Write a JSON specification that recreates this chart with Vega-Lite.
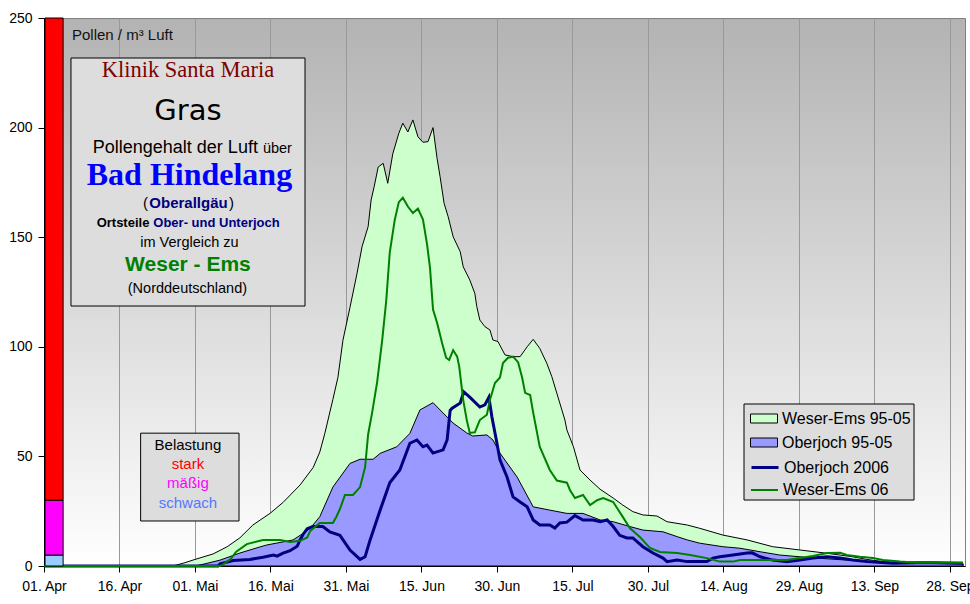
{
  "$schema": "https://vega.github.io/schema/vega-lite/v6.json",
  "width": 921,
  "height": 548,
  "autosize": {"type": "none"},
  "padding": {"left": 44, "top": 18, "right": 5, "bottom": 38},
  "background": "#ffffff",
  "view": {
    "fill": {"gradient": "linear", "x1": 0, "y1": 0, "x2": 0, "y2": 1, "stops": [{"offset": 0, "color": "#b3b3b3"}, {"offset": 1, "color": "#ffffff"}]},
    "stroke": "#808080",
    "strokeWidth": 1
  },
  "config": {
    "font": "Liberation Sans",
    "axis": {"titleOpacity": 0, "labelFont": "Liberation Sans", "labelFontSize": 14, "labelColor": "#000000", "domainColor": "#000000", "tickColor": "#000000", "tickSize": 6},
    "axisX": {"grid": true, "gridColor": "#999999", "gridWidth": 1, "labelFlush": false, "labelOverlap": false, "labelPadding": 7},
    "axisY": {"grid": false, "labelPadding": 6},
    "legend": {"title": null, "orient": "none", "legendX": 700, "padding": 2, "symbolOffset": 8.5, "symbolSize": 324, "labelOffset": 8.5, "rowPadding": 0, "labelFont": "Liberation Sans", "labelFontSize": 16, "labelColor": "#000000", "labelLimit": 0, "symbolOpacity": 1}
  },
  "resolve": {"legend": {"color": "independent"}},
  "datasets": {
    "reihen": [
      {"reihe": "Weser-Ems 95-05", "tag": 0, "wert": 0},
      {"reihe": "Weser-Ems 95-05", "tag": 25.6, "wert": 0},
      {"reihe": "Weser-Ems 95-05", "tag": 28.0, "wert": 1.5},
      {"reihe": "Weser-Ems 95-05", "tag": 30.0, "wert": 3},
      {"reihe": "Weser-Ems 95-05", "tag": 33.6, "wert": 5.5},
      {"reihe": "Weser-Ems 95-05", "tag": 36.4, "wert": 8.8},
      {"reihe": "Weser-Ems 95-05", "tag": 38.9, "wert": 12.8},
      {"reihe": "Weser-Ems 95-05", "tag": 41.5, "wert": 18.7},
      {"reihe": "Weser-Ems 95-05", "tag": 44.9, "wert": 24},
      {"reihe": "Weser-Ems 95-05", "tag": 47.5, "wert": 29},
      {"reihe": "Weser-Ems 95-05", "tag": 50.9, "wert": 37},
      {"reihe": "Weser-Ems 95-05", "tag": 53.5, "wert": 45},
      {"reihe": "Weser-Ems 95-05", "tag": 54.8, "wert": 52},
      {"reihe": "Weser-Ems 95-05", "tag": 55.8, "wert": 60.5},
      {"reihe": "Weser-Ems 95-05", "tag": 57.4, "wert": 76},
      {"reihe": "Weser-Ems 95-05", "tag": 58.4, "wert": 86},
      {"reihe": "Weser-Ems 95-05", "tag": 59.4, "wert": 103},
      {"reihe": "Weser-Ems 95-05", "tag": 60.8, "wert": 118},
      {"reihe": "Weser-Ems 95-05", "tag": 62.2, "wert": 133.5},
      {"reihe": "Weser-Ems 95-05", "tag": 63.2, "wert": 145.7},
      {"reihe": "Weser-Ems 95-05", "tag": 64.4, "wert": 154.8},
      {"reihe": "Weser-Ems 95-05", "tag": 65.0, "wert": 167},
      {"reihe": "Weser-Ems 95-05", "tag": 65.6, "wert": 173},
      {"reihe": "Weser-Ems 95-05", "tag": 66.4, "wert": 182},
      {"reihe": "Weser-Ems 95-05", "tag": 67.4, "wert": 183.7},
      {"reihe": "Weser-Ems 95-05", "tag": 68.3, "wert": 174.6},
      {"reihe": "Weser-Ems 95-05", "tag": 69.3, "wert": 188},
      {"reihe": "Weser-Ems 95-05", "tag": 70.5, "wert": 197.4},
      {"reihe": "Weser-Ems 95-05", "tag": 71.3, "wert": 202},
      {"reihe": "Weser-Ems 95-05", "tag": 72.3, "wert": 198},
      {"reihe": "Weser-Ems 95-05", "tag": 73.3, "wert": 203.5},
      {"reihe": "Weser-Ems 95-05", "tag": 74.3, "wert": 195.8},
      {"reihe": "Weser-Ems 95-05", "tag": 75.3, "wert": 193.3},
      {"reihe": "Weser-Ems 95-05", "tag": 76.3, "wert": 193.6},
      {"reihe": "Weser-Ems 95-05", "tag": 77.3, "wert": 200},
      {"reihe": "Weser-Ems 95-05", "tag": 78.1, "wert": 186},
      {"reihe": "Weser-Ems 95-05", "tag": 78.7, "wert": 177.6},
      {"reihe": "Weser-Ems 95-05", "tag": 79.5, "wert": 165.4},
      {"reihe": "Weser-Ems 95-05", "tag": 80.3, "wert": 159.4},
      {"reihe": "Weser-Ems 95-05", "tag": 81.3, "wert": 150.2},
      {"reihe": "Weser-Ems 95-05", "tag": 82.7, "wert": 143.4},
      {"reihe": "Weser-Ems 95-05", "tag": 83.3, "wert": 136.5},
      {"reihe": "Weser-Ems 95-05", "tag": 84.6, "wert": 130.5},
      {"reihe": "Weser-Ems 95-05", "tag": 85.6, "wert": 124.4},
      {"reihe": "Weser-Ems 95-05", "tag": 86.0, "wert": 118.3},
      {"reihe": "Weser-Ems 95-05", "tag": 86.6, "wert": 112.2},
      {"reihe": "Weser-Ems 95-05", "tag": 87.6, "wert": 109.2},
      {"reihe": "Weser-Ems 95-05", "tag": 88.6, "wert": 107.7},
      {"reihe": "Weser-Ems 95-05", "tag": 89.2, "wert": 103.1},
      {"reihe": "Weser-Ems 95-05", "tag": 90.2, "wert": 102.4},
      {"reihe": "Weser-Ems 95-05", "tag": 91.6, "wert": 96.3},
      {"reihe": "Weser-Ems 95-05", "tag": 93.2, "wert": 95.5},
      {"reihe": "Weser-Ems 95-05", "tag": 94.6, "wert": 95.5},
      {"reihe": "Weser-Ems 95-05", "tag": 96.0, "wert": 100},
      {"reihe": "Weser-Ems 95-05", "tag": 97.2, "wert": 103.4},
      {"reihe": "Weser-Ems 95-05", "tag": 98.5, "wert": 99.3},
      {"reihe": "Weser-Ems 95-05", "tag": 99.9, "wert": 92.5},
      {"reihe": "Weser-Ems 95-05", "tag": 100.9, "wert": 86.4},
      {"reihe": "Weser-Ems 95-05", "tag": 101.9, "wert": 78.8},
      {"reihe": "Weser-Ems 95-05", "tag": 102.9, "wert": 71.2},
      {"reihe": "Weser-Ems 95-05", "tag": 103.5, "wert": 66.6},
      {"reihe": "Weser-Ems 95-05", "tag": 103.9, "wert": 62},
      {"reihe": "Weser-Ems 95-05", "tag": 105.2, "wert": 54.4},
      {"reihe": "Weser-Ems 95-05", "tag": 106.5, "wert": 43.8},
      {"reihe": "Weser-Ems 95-05", "tag": 108.5, "wert": 39.2},
      {"reihe": "Weser-Ems 95-05", "tag": 110.5, "wert": 35},
      {"reihe": "Weser-Ems 95-05", "tag": 113.1, "wert": 31},
      {"reihe": "Weser-Ems 95-05", "tag": 115.0, "wert": 27.8},
      {"reihe": "Weser-Ems 95-05", "tag": 117.0, "wert": 24.8},
      {"reihe": "Weser-Ems 95-05", "tag": 119.0, "wert": 23.3},
      {"reihe": "Weser-Ems 95-05", "tag": 121.8, "wert": 22.8},
      {"reihe": "Weser-Ems 95-05", "tag": 123.8, "wert": 20.2},
      {"reihe": "Weser-Ems 95-05", "tag": 127.8, "wert": 18.7},
      {"reihe": "Weser-Ems 95-05", "tag": 130.3, "wert": 17.2},
      {"reihe": "Weser-Ems 95-05", "tag": 134.9, "wert": 14.1},
      {"reihe": "Weser-Ems 95-05", "tag": 139.7, "wert": 11.9},
      {"reihe": "Weser-Ems 95-05", "tag": 144.8, "wert": 8.8},
      {"reihe": "Weser-Ems 95-05", "tag": 150.2, "wert": 7.3},
      {"reihe": "Weser-Ems 95-05", "tag": 155.6, "wert": 5.8},
      {"reihe": "Weser-Ems 95-05", "tag": 160.7, "wert": 4.2},
      {"reihe": "Weser-Ems 95-05", "tag": 163.5, "wert": 3},
      {"reihe": "Weser-Ems 95-05", "tag": 166.7, "wert": 2},
      {"reihe": "Weser-Ems 95-05", "tag": 170.1, "wert": 1.5},
      {"reihe": "Weser-Ems 95-05", "tag": 182.6, "wert": 1.2},

      {"reihe": "Oberjoch 95-05", "tag": 0, "wert": 0},
      {"reihe": "Oberjoch 95-05", "tag": 30.0, "wert": 0},
      {"reihe": "Oberjoch 95-05", "tag": 32.0, "wert": 1},
      {"reihe": "Oberjoch 95-05", "tag": 35.0, "wert": 2.7},
      {"reihe": "Oberjoch 95-05", "tag": 38.9, "wert": 5.9},
      {"reihe": "Oberjoch 95-05", "tag": 42.9, "wert": 8.7},
      {"reihe": "Oberjoch 95-05", "tag": 44.3, "wert": 9.6},
      {"reihe": "Oberjoch 95-05", "tag": 47.5, "wert": 11},
      {"reihe": "Oberjoch 95-05", "tag": 49.5, "wert": 11.9},
      {"reihe": "Oberjoch 95-05", "tag": 50.9, "wert": 14},
      {"reihe": "Oberjoch 95-05", "tag": 52.9, "wert": 17.2},
      {"reihe": "Oberjoch 95-05", "tag": 54.8, "wert": 22.5},
      {"reihe": "Oberjoch 95-05", "tag": 57.4, "wert": 36},
      {"reihe": "Oberjoch 95-05", "tag": 60.8, "wert": 46.8},
      {"reihe": "Oberjoch 95-05", "tag": 62.8, "wert": 48.7},
      {"reihe": "Oberjoch 95-05", "tag": 65.4, "wert": 48.7},
      {"reihe": "Oberjoch 95-05", "tag": 66.8, "wert": 51.4},
      {"reihe": "Oberjoch 95-05", "tag": 70.1, "wert": 54.4},
      {"reihe": "Oberjoch 95-05", "tag": 72.7, "wert": 60.5},
      {"reihe": "Oberjoch 95-05", "tag": 74.7, "wert": 71.2},
      {"reihe": "Oberjoch 95-05", "tag": 77.3, "wert": 74.5},
      {"reihe": "Oberjoch 95-05", "tag": 79.3, "wert": 69.8},
      {"reihe": "Oberjoch 95-05", "tag": 81.3, "wert": 65.2},
      {"reihe": "Oberjoch 95-05", "tag": 84.0, "wert": 60.7},
      {"reihe": "Oberjoch 95-05", "tag": 85.2, "wert": 59.3},
      {"reihe": "Oberjoch 95-05", "tag": 88.0, "wert": 59.8},
      {"reihe": "Oberjoch 95-05", "tag": 89.2, "wert": 57.5},
      {"reihe": "Oberjoch 95-05", "tag": 90.6, "wert": 51.5},
      {"reihe": "Oberjoch 95-05", "tag": 94.0, "wert": 40.6},
      {"reihe": "Oberjoch 95-05", "tag": 97.2, "wert": 27},
      {"reihe": "Oberjoch 95-05", "tag": 100.5, "wert": 25.5},
      {"reihe": "Oberjoch 95-05", "tag": 103.9, "wert": 24},
      {"reihe": "Oberjoch 95-05", "tag": 107.1, "wert": 24},
      {"reihe": "Oberjoch 95-05", "tag": 110.5, "wert": 21},
      {"reihe": "Oberjoch 95-05", "tag": 113.1, "wert": 20.2},
      {"reihe": "Oberjoch 95-05", "tag": 116.4, "wert": 18},
      {"reihe": "Oberjoch 95-05", "tag": 119.0, "wert": 16.4},
      {"reihe": "Oberjoch 95-05", "tag": 123.0, "wert": 15.6},
      {"reihe": "Oberjoch 95-05", "tag": 125.8, "wert": 13.4},
      {"reihe": "Oberjoch 95-05", "tag": 127.8, "wert": 11.9},
      {"reihe": "Oberjoch 95-05", "tag": 130.3, "wert": 10.4},
      {"reihe": "Oberjoch 95-05", "tag": 134.9, "wert": 8.8},
      {"reihe": "Oberjoch 95-05", "tag": 138.3, "wert": 8.1},
      {"reihe": "Oberjoch 95-05", "tag": 142.3, "wert": 6.5},
      {"reihe": "Oberjoch 95-05", "tag": 146.2, "wert": 5},
      {"reihe": "Oberjoch 95-05", "tag": 150.2, "wert": 4.2},
      {"reihe": "Oberjoch 95-05", "tag": 154.2, "wert": 3.5},
      {"reihe": "Oberjoch 95-05", "tag": 159.5, "wert": 2.7},
      {"reihe": "Oberjoch 95-05", "tag": 164.7, "wert": 2},
      {"reihe": "Oberjoch 95-05", "tag": 170.1, "wert": 1.5},
      {"reihe": "Oberjoch 95-05", "tag": 176.6, "wert": 1.2},
      {"reihe": "Oberjoch 95-05", "tag": 182.6, "wert": 0.9},

      {"reihe": "Oberjoch 2006", "tag": 0, "wert": 0},
      {"reihe": "Oberjoch 2006", "tag": 34.6, "wert": 0},
      {"reihe": "Oberjoch 2006", "tag": 35.0, "wert": 1},
      {"reihe": "Oberjoch 2006", "tag": 37.6, "wert": 2.5},
      {"reihe": "Oberjoch 2006", "tag": 40.9, "wert": 3},
      {"reihe": "Oberjoch 2006", "tag": 43.5, "wert": 4},
      {"reihe": "Oberjoch 2006", "tag": 45.6, "wert": 5},
      {"reihe": "Oberjoch 2006", "tag": 46.3, "wert": 4.5},
      {"reihe": "Oberjoch 2006", "tag": 47.5, "wert": 5.9},
      {"reihe": "Oberjoch 2006", "tag": 48.9, "wert": 7},
      {"reihe": "Oberjoch 2006", "tag": 50.3, "wert": 9},
      {"reihe": "Oberjoch 2006", "tag": 50.9, "wert": 12},
      {"reihe": "Oberjoch 2006", "tag": 51.5, "wert": 14.5},
      {"reihe": "Oberjoch 2006", "tag": 52.3, "wert": 17},
      {"reihe": "Oberjoch 2006", "tag": 53.4, "wert": 18},
      {"reihe": "Oberjoch 2006", "tag": 55.4, "wert": 18},
      {"reihe": "Oberjoch 2006", "tag": 56.8, "wert": 15.5},
      {"reihe": "Oberjoch 2006", "tag": 58.8, "wert": 14},
      {"reihe": "Oberjoch 2006", "tag": 60.8, "wert": 7.3},
      {"reihe": "Oberjoch 2006", "tag": 62.8, "wert": 3},
      {"reihe": "Oberjoch 2006", "tag": 63.8, "wert": 4.2},
      {"reihe": "Oberjoch 2006", "tag": 64.8, "wert": 11.9},
      {"reihe": "Oberjoch 2006", "tag": 66.8, "wert": 25.5},
      {"reihe": "Oberjoch 2006", "tag": 68.7, "wert": 38},
      {"reihe": "Oberjoch 2006", "tag": 70.7, "wert": 43.8},
      {"reihe": "Oberjoch 2006", "tag": 72.7, "wert": 56},
      {"reihe": "Oberjoch 2006", "tag": 74.1, "wert": 57.5},
      {"reihe": "Oberjoch 2006", "tag": 75.3, "wert": 54.4},
      {"reihe": "Oberjoch 2006", "tag": 76.1, "wert": 55.2},
      {"reihe": "Oberjoch 2006", "tag": 77.3, "wert": 51.5},
      {"reihe": "Oberjoch 2006", "tag": 79.3, "wert": 53},
      {"reihe": "Oberjoch 2006", "tag": 80.1, "wert": 57.5},
      {"reihe": "Oberjoch 2006", "tag": 80.7, "wert": 71},
      {"reihe": "Oberjoch 2006", "tag": 81.1, "wert": 72},
      {"reihe": "Oberjoch 2006", "tag": 82.1, "wert": 73.5},
      {"reihe": "Oberjoch 2006", "tag": 82.7, "wert": 74.4},
      {"reihe": "Oberjoch 2006", "tag": 83.4, "wert": 79.4},
      {"reihe": "Oberjoch 2006", "tag": 84.6, "wert": 77},
      {"reihe": "Oberjoch 2006", "tag": 86.6, "wert": 72.5},
      {"reihe": "Oberjoch 2006", "tag": 87.6, "wert": 73.5},
      {"reihe": "Oberjoch 2006", "tag": 88.4, "wert": 77},
      {"reihe": "Oberjoch 2006", "tag": 89.0, "wert": 68},
      {"reihe": "Oberjoch 2006", "tag": 90.0, "wert": 56},
      {"reihe": "Oberjoch 2006", "tag": 90.6, "wert": 48.4},
      {"reihe": "Oberjoch 2006", "tag": 92.0, "wert": 40.6},
      {"reihe": "Oberjoch 2006", "tag": 93.2, "wert": 31.5},
      {"reihe": "Oberjoch 2006", "tag": 94.6, "wert": 29.2},
      {"reihe": "Oberjoch 2006", "tag": 96.0, "wert": 27},
      {"reihe": "Oberjoch 2006", "tag": 97.2, "wert": 21},
      {"reihe": "Oberjoch 2006", "tag": 98.5, "wert": 18.7},
      {"reihe": "Oberjoch 2006", "tag": 100.5, "wert": 18.7},
      {"reihe": "Oberjoch 2006", "tag": 101.5, "wert": 17.3},
      {"reihe": "Oberjoch 2006", "tag": 102.5, "wert": 19.6},
      {"reihe": "Oberjoch 2006", "tag": 103.9, "wert": 20},
      {"reihe": "Oberjoch 2006", "tag": 105.5, "wert": 23},
      {"reihe": "Oberjoch 2006", "tag": 107.1, "wert": 21},
      {"reihe": "Oberjoch 2006", "tag": 109.1, "wert": 21},
      {"reihe": "Oberjoch 2006", "tag": 110.5, "wert": 20.2},
      {"reihe": "Oberjoch 2006", "tag": 111.9, "wert": 21},
      {"reihe": "Oberjoch 2006", "tag": 113.1, "wert": 18},
      {"reihe": "Oberjoch 2006", "tag": 114.4, "wert": 14},
      {"reihe": "Oberjoch 2006", "tag": 115.8, "wert": 12.8},
      {"reihe": "Oberjoch 2006", "tag": 117.0, "wert": 12.8},
      {"reihe": "Oberjoch 2006", "tag": 119.0, "wert": 8.8},
      {"reihe": "Oberjoch 2006", "tag": 121.0, "wert": 5.9},
      {"reihe": "Oberjoch 2006", "tag": 123.0, "wert": 3.6},
      {"reihe": "Oberjoch 2006", "tag": 123.8, "wert": 2},
      {"reihe": "Oberjoch 2006", "tag": 125.8, "wert": 2.7},
      {"reihe": "Oberjoch 2006", "tag": 127.8, "wert": 2},
      {"reihe": "Oberjoch 2006", "tag": 131.7, "wert": 2},
      {"reihe": "Oberjoch 2006", "tag": 132.9, "wert": 3.6},
      {"reihe": "Oberjoch 2006", "tag": 134.3, "wert": 4.2},
      {"reihe": "Oberjoch 2006", "tag": 136.9, "wert": 5},
      {"reihe": "Oberjoch 2006", "tag": 139.7, "wert": 5.9},
      {"reihe": "Oberjoch 2006", "tag": 140.7, "wert": 6},
      {"reihe": "Oberjoch 2006", "tag": 142.3, "wert": 4.2},
      {"reihe": "Oberjoch 2006", "tag": 144.8, "wert": 2.7},
      {"reihe": "Oberjoch 2006", "tag": 147.6, "wert": 2},
      {"reihe": "Oberjoch 2006", "tag": 150.2, "wert": 2.7},
      {"reihe": "Oberjoch 2006", "tag": 152.8, "wert": 3.6},
      {"reihe": "Oberjoch 2006", "tag": 155.6, "wert": 4.2},
      {"reihe": "Oberjoch 2006", "tag": 158.2, "wert": 3.6},
      {"reihe": "Oberjoch 2006", "tag": 160.7, "wert": 2.7},
      {"reihe": "Oberjoch 2006", "tag": 163.5, "wert": 2},
      {"reihe": "Oberjoch 2006", "tag": 168.7, "wert": 1.3},
      {"reihe": "Oberjoch 2006", "tag": 173.5, "wert": 1.5},
      {"reihe": "Oberjoch 2006", "tag": 176.6, "wert": 1.5},
      {"reihe": "Oberjoch 2006", "tag": 182.6, "wert": 1.3},

      {"reihe": "Weser-Ems 06", "tag": 0, "wert": 0},
      {"reihe": "Weser-Ems 06", "tag": 35.0, "wert": 0},
      {"reihe": "Weser-Ems 06", "tag": 35.4, "wert": 0.5},
      {"reihe": "Weser-Ems 06", "tag": 37.0, "wert": 3},
      {"reihe": "Weser-Ems 06", "tag": 38.2, "wert": 6.5},
      {"reihe": "Weser-Ems 06", "tag": 40.3, "wert": 10},
      {"reihe": "Weser-Ems 06", "tag": 43.5, "wert": 11.9},
      {"reihe": "Weser-Ems 06", "tag": 46.9, "wert": 11.9},
      {"reihe": "Weser-Ems 06", "tag": 48.9, "wert": 11},
      {"reihe": "Weser-Ems 06", "tag": 50.9, "wert": 11.5},
      {"reihe": "Weser-Ems 06", "tag": 52.3, "wert": 13},
      {"reihe": "Weser-Ems 06", "tag": 52.9, "wert": 16},
      {"reihe": "Weser-Ems 06", "tag": 54.8, "wert": 19.6},
      {"reihe": "Weser-Ems 06", "tag": 57.4, "wert": 19.6},
      {"reihe": "Weser-Ems 06", "tag": 58.1, "wert": 22.5},
      {"reihe": "Weser-Ems 06", "tag": 58.8, "wert": 26},
      {"reihe": "Weser-Ems 06", "tag": 59.8, "wert": 32.4},
      {"reihe": "Weser-Ems 06", "tag": 61.4, "wert": 32.4},
      {"reihe": "Weser-Ems 06", "tag": 62.8, "wert": 36},
      {"reihe": "Weser-Ems 06", "tag": 63.8, "wert": 45},
      {"reihe": "Weser-Ems 06", "tag": 64.4, "wert": 60},
      {"reihe": "Weser-Ems 06", "tag": 65.2, "wert": 70},
      {"reihe": "Weser-Ems 06", "tag": 66.2, "wert": 84},
      {"reihe": "Weser-Ems 06", "tag": 67.2, "wert": 103},
      {"reihe": "Weser-Ems 06", "tag": 68.0, "wert": 121},
      {"reihe": "Weser-Ems 06", "tag": 68.7, "wert": 143},
      {"reihe": "Weser-Ems 06", "tag": 69.7, "wert": 158},
      {"reihe": "Weser-Ems 06", "tag": 70.5, "wert": 166},
      {"reihe": "Weser-Ems 06", "tag": 71.3, "wert": 168},
      {"reihe": "Weser-Ems 06", "tag": 72.3, "wert": 164},
      {"reihe": "Weser-Ems 06", "tag": 73.3, "wert": 161},
      {"reihe": "Weser-Ems 06", "tag": 74.3, "wert": 163},
      {"reihe": "Weser-Ems 06", "tag": 75.3, "wert": 158},
      {"reihe": "Weser-Ems 06", "tag": 76.1, "wert": 147},
      {"reihe": "Weser-Ems 06", "tag": 76.7, "wert": 136},
      {"reihe": "Weser-Ems 06", "tag": 77.3, "wert": 117},
      {"reihe": "Weser-Ems 06", "tag": 78.1, "wert": 111},
      {"reihe": "Weser-Ems 06", "tag": 79.1, "wert": 101.7},
      {"reihe": "Weser-Ems 06", "tag": 79.9, "wert": 95},
      {"reihe": "Weser-Ems 06", "tag": 80.5, "wert": 94},
      {"reihe": "Weser-Ems 06", "tag": 81.3, "wert": 98.5},
      {"reihe": "Weser-Ems 06", "tag": 82.1, "wert": 95.5},
      {"reihe": "Weser-Ems 06", "tag": 82.5, "wert": 91},
      {"reihe": "Weser-Ems 06", "tag": 83.3, "wert": 75.7},
      {"reihe": "Weser-Ems 06", "tag": 84.0, "wert": 66.6},
      {"reihe": "Weser-Ems 06", "tag": 84.6, "wert": 60.7},
      {"reihe": "Weser-Ems 06", "tag": 85.6, "wert": 61},
      {"reihe": "Weser-Ems 06", "tag": 86.6, "wert": 66.6},
      {"reihe": "Weser-Ems 06", "tag": 88.0, "wert": 69},
      {"reihe": "Weser-Ems 06", "tag": 88.6, "wert": 75.7},
      {"reihe": "Weser-Ems 06", "tag": 89.6, "wert": 83.5},
      {"reihe": "Weser-Ems 06", "tag": 90.6, "wert": 86},
      {"reihe": "Weser-Ems 06", "tag": 91.2, "wert": 92.6},
      {"reihe": "Weser-Ems 06", "tag": 92.2, "wert": 95},
      {"reihe": "Weser-Ems 06", "tag": 93.2, "wert": 95.5},
      {"reihe": "Weser-Ems 06", "tag": 94.2, "wert": 93},
      {"reihe": "Weser-Ems 06", "tag": 95.0, "wert": 86},
      {"reihe": "Weser-Ems 06", "tag": 95.6, "wert": 79},
      {"reihe": "Weser-Ems 06", "tag": 96.6, "wert": 78},
      {"reihe": "Weser-Ems 06", "tag": 97.2, "wert": 70},
      {"reihe": "Weser-Ems 06", "tag": 98.5, "wert": 54.4},
      {"reihe": "Weser-Ems 06", "tag": 100.5, "wert": 43.8},
      {"reihe": "Weser-Ems 06", "tag": 101.9, "wert": 39},
      {"reihe": "Weser-Ems 06", "tag": 103.9, "wert": 38},
      {"reihe": "Weser-Ems 06", "tag": 104.5, "wert": 34.7},
      {"reihe": "Weser-Ems 06", "tag": 105.5, "wert": 31},
      {"reihe": "Weser-Ems 06", "tag": 107.1, "wert": 32.4},
      {"reihe": "Weser-Ems 06", "tag": 108.5, "wert": 27.8},
      {"reihe": "Weser-Ems 06", "tag": 109.9, "wert": 30},
      {"reihe": "Weser-Ems 06", "tag": 111.1, "wert": 31},
      {"reihe": "Weser-Ems 06", "tag": 113.1, "wert": 29.2},
      {"reihe": "Weser-Ems 06", "tag": 115.0, "wert": 22.4},
      {"reihe": "Weser-Ems 06", "tag": 116.4, "wert": 17.3},
      {"reihe": "Weser-Ems 06", "tag": 118.4, "wert": 13.2},
      {"reihe": "Weser-Ems 06", "tag": 120.4, "wert": 8.2},
      {"reihe": "Weser-Ems 06", "tag": 122.4, "wert": 6.4},
      {"reihe": "Weser-Ems 06", "tag": 125.8, "wert": 5.9},
      {"reihe": "Weser-Ems 06", "tag": 128.4, "wert": 5},
      {"reihe": "Weser-Ems 06", "tag": 131.7, "wert": 3.6},
      {"reihe": "Weser-Ems 06", "tag": 134.3, "wert": 2},
      {"reihe": "Weser-Ems 06", "tag": 136.9, "wert": 2},
      {"reihe": "Weser-Ems 06", "tag": 138.3, "wert": 2.7},
      {"reihe": "Weser-Ems 06", "tag": 147.6, "wert": 2.7},
      {"reihe": "Weser-Ems 06", "tag": 150.2, "wert": 3.6},
      {"reihe": "Weser-Ems 06", "tag": 152.8, "wert": 4.6},
      {"reihe": "Weser-Ems 06", "tag": 155.6, "wert": 5.9},
      {"reihe": "Weser-Ems 06", "tag": 158.2, "wert": 6},
      {"reihe": "Weser-Ems 06", "tag": 159.5, "wert": 5},
      {"reihe": "Weser-Ems 06", "tag": 162.1, "wert": 4.2},
      {"reihe": "Weser-Ems 06", "tag": 164.7, "wert": 3.6},
      {"reihe": "Weser-Ems 06", "tag": 166.7, "wert": 2.7},
      {"reihe": "Weser-Ems 06", "tag": 170.1, "wert": 2},
      {"reihe": "Weser-Ems 06", "tag": 173.5, "wert": 1.5},
      {"reihe": "Weser-Ems 06", "tag": 182.6, "wert": 1.5}
    ]
  },
  "layer": [
    {
      "data": {"name": "reihen"},
      "transform": [{"filter": "datum.reihe == 'Weser-Ems 95-05'"}],
      "mark": {"type": "area", "stroke": "#000000", "strokeWidth": 1, "interpolate": "linear"},
      "encoding": {
        "x": {"field": "tag", "type": "quantitative", "scale": {"domain": [0, 183], "nice": false, "zero": false},
              "axis": {"title": null, "values": [0, 15, 30, 45, 60, 75, 90, 105, 120, 135, 150, 165, 180],
                       "labelExpr": "['01. Apr','16. Apr','01. Mai','16. Mai','31. Mai','15. Jun','30. Jun','15. Jul','30. Jul','14. Aug','29. Aug','13. Sep','28. Sep'][round(datum.value/15)]"}},
        "y": {"field": "wert", "type": "quantitative", "scale": {"domain": [0, 250], "nice": false},
              "axis": {"title": null, "values": [0, 50, 100, 150, 200, 250]}},
        "color": {
          "field": "reihe", "type": "nominal",
          "scale": {"domain": ["Weser-Ems 95-05", "Oberjoch 95-05", "Oberjoch 2006", "Weser-Ems 06"], "range": ["#ccffcc", "#9999ff", "#000080", "#008000"]},
          "legend": {"values": ["Weser-Ems 95-05"], "legendY": 389, "symbolType": "M-1.5,-0.5H1.5V0.5H-1.5Z", "symbolStrokeColor": "#000000", "symbolStrokeWidth": 1, "symbolFillColor": "#ccffcc"}
        }
      }
    },
    {
      "data": {"name": "reihen"},
      "transform": [{"filter": "datum.reihe == 'Oberjoch 95-05'"}],
      "mark": {"type": "area", "stroke": "#000000", "strokeWidth": 1, "interpolate": "linear"},
      "encoding": {
        "x": {"field": "tag", "type": "quantitative"},
        "y": {"field": "wert", "type": "quantitative"},
        "color": {"field": "reihe", "type": "nominal",
          "legend": {"values": ["Oberjoch 95-05"], "legendY": 413, "symbolType": "M-1.5,-0.5H1.5V0.5H-1.5Z", "symbolStrokeColor": "#000000", "symbolStrokeWidth": 1, "symbolFillColor": "#9999ff"}}
      }
    },
    {
      "data": {"name": "reihen"},
      "transform": [{"filter": "datum.reihe == 'Oberjoch 2006'"}],
      "mark": {"type": "line", "strokeWidth": 3, "interpolate": "linear"},
      "encoding": {
        "x": {"field": "tag", "type": "quantitative"},
        "y": {"field": "wert", "type": "quantitative"},
        "color": {"field": "reihe", "type": "nominal",
          "legend": {"values": ["Oberjoch 2006"], "legendY": 437, "symbolType": "M-1.5,0H1.5", "symbolStrokeColor": "#000080", "symbolStrokeWidth": 3}}
      }
    },
    {
      "data": {"name": "reihen"},
      "transform": [{"filter": "datum.reihe == 'Weser-Ems 06'"}],
      "mark": {"type": "line", "strokeWidth": 2, "interpolate": "linear"},
      "encoding": {
        "x": {"field": "tag", "type": "quantitative"},
        "y": {"field": "wert", "type": "quantitative"},
        "color": {"field": "reihe", "type": "nominal",
          "legend": {"values": ["Weser-Ems 06"], "legendY": 460, "symbolType": "M-1.5,0H1.5", "symbolStrokeColor": "#008000", "symbolStrokeWidth": 2}}
      }
    },
    {
      "data": {"values": [{}]},
      "mark": {"type": "rect", "fill": "#dddddd", "stroke": "#000000", "strokeWidth": 1},
      "encoding": {"x": {"datum": 139.09, "type": "quantitative"}, "x2": {"datum": 172.87}, "y": {"datum": 30.1, "type": "quantitative"}, "y2": {"datum": 73.9}}
    },
    {
      "data": {"values": [
        {"stufe": "schwach", "von": 0, "bis": 5},
        {"stufe": "mäßig", "von": 5, "bis": 30},
        {"stufe": "stark", "von": 30, "bis": 250}
      ]},
      "mark": {"type": "rect", "stroke": "#000000", "strokeWidth": 1},
      "encoding": {
        "x": {"datum": 0.2, "type": "quantitative"},
        "x2": {"datum": 3.8},
        "y": {"field": "von", "type": "quantitative"},
        "y2": {"field": "bis"},
        "fill": {"field": "stufe", "type": "nominal", "scale": {"domain": ["schwach", "mäßig", "stark"], "range": ["#99ccff", "#ff00ff", "#ff0000"]}, "legend": null}
      }
    },
    {
      "data": {"values": [{}]},
      "mark": {"type": "text", "text": "Pollen / m³ Luft", "font": "Liberation Sans", "fontSize": 15, "fill": "#111111", "align": "left", "baseline": "alphabetic"},
      "encoding": {"x": {"datum": 5.56, "type": "quantitative"}, "y": {"datum": 240.0, "type": "quantitative"}}
    },
    {
      "data": {"values": [{}]},
      "mark": {"type": "rect", "fill": "#dddddd", "stroke": "#000000", "strokeWidth": 1},
      "encoding": {"x": {"datum": 5.36, "type": "quantitative"}, "x2": {"datum": 51.86}, "y": {"datum": 118.6, "type": "quantitative"}, "y2": {"datum": 231.75}}
    },
    {
      "data": {"values": [{}]},
      "mark": {"type": "text", "text": "Klinik Santa Maria", "font": "Liberation Serif", "fontSize": 22.5, "fill": "#800000", "align": "center", "baseline": "alphabetic"},
      "encoding": {"x": {"datum": 28.6, "type": "quantitative"}, "y": {"datum": 222.9, "type": "quantitative"}}
    },
    {
      "data": {"values": [{}]},
      "mark": {"type": "text", "text": "Gras", "font": "DejaVu Sans", "fontSize": 29, "fill": "#000000", "align": "center", "baseline": "alphabetic"},
      "encoding": {"x": {"datum": 28.6, "type": "quantitative"}, "y": {"datum": 203.5, "type": "quantitative"}}
    },
    {
      "data": {"values": [{}]},
      "mark": {"type": "text", "text": "Pollengehalt der Luft", "font": "Liberation Sans", "fontSize": 18, "fill": "#000000", "align": "right", "baseline": "alphabetic"},
      "encoding": {"x": {"datum": 42.5, "type": "quantitative"}, "y": {"datum": 188.4, "type": "quantitative"}}
    },
    {
      "data": {"values": [{}]},
      "mark": {"type": "text", "text": "über", "font": "Liberation Sans", "fontSize": 14.5, "fill": "#000000", "align": "left", "baseline": "alphabetic"},
      "encoding": {"x": {"datum": 43.5, "type": "quantitative"}, "y": {"datum": 188.4, "type": "quantitative"}}
    },
    {
      "data": {"values": [{}]},
      "mark": {"type": "text", "text": "Bad Hindelang", "font": "Liberation Serif", "fontSize": 32, "fontWeight": "bold", "fill": "#0000ff", "align": "center", "baseline": "alphabetic"},
      "encoding": {"x": {"datum": 28.9, "type": "quantitative"}, "y": {"datum": 173.8, "type": "quantitative"}}
    },
    {
      "data": {"values": [{}]},
      "mark": {"type": "text", "text": "(", "font": "Liberation Sans", "fontSize": 15, "fill": "#000000", "align": "right", "baseline": "alphabetic"},
      "encoding": {"x": {"datum": 20.66, "type": "quantitative"}, "y": {"datum": 163.3, "type": "quantitative"}}
    },
    {
      "data": {"values": [{}]},
      "mark": {"type": "text", "text": "Oberallgäu", "font": "Liberation Sans", "fontSize": 15, "fontWeight": "bold", "fill": "#000080", "align": "center", "baseline": "alphabetic"},
      "encoding": {"x": {"datum": 28.71, "type": "quantitative"}, "y": {"datum": 163.3, "type": "quantitative"}}
    },
    {
      "data": {"values": [{}]},
      "mark": {"type": "text", "text": ")", "font": "Liberation Sans", "fontSize": 15, "fill": "#000000", "align": "left", "baseline": "alphabetic"},
      "encoding": {"x": {"datum": 36.76, "type": "quantitative"}, "y": {"datum": 163.3, "type": "quantitative"}}
    },
    {
      "data": {"values": [{}]},
      "mark": {"type": "text", "text": "Ortsteile", "font": "Liberation Sans", "fontSize": 13, "fontWeight": "bold", "fill": "#000000", "align": "left", "baseline": "alphabetic"},
      "encoding": {"x": {"datum": 10.46, "type": "quantitative"}, "y": {"datum": 154.7, "type": "quantitative"}}
    },
    {
      "data": {"values": [{}]},
      "mark": {"type": "text", "text": "Ober- und Unterjoch", "font": "Liberation Sans", "fontSize": 13, "fontWeight": "bold", "fill": "#000080", "align": "left", "baseline": "alphabetic"},
      "encoding": {"x": {"datum": 21.72, "type": "quantitative"}, "y": {"datum": 154.7, "type": "quantitative"}}
    },
    {
      "data": {"values": [{}]},
      "mark": {"type": "text", "text": "im Vergleich zu", "font": "Liberation Sans", "fontSize": 14.5, "fill": "#000000", "align": "center", "baseline": "alphabetic"},
      "encoding": {"x": {"datum": 28.9, "type": "quantitative"}, "y": {"datum": 145.5, "type": "quantitative"}}
    },
    {
      "data": {"values": [{}]},
      "mark": {"type": "text", "text": "Weser - Ems", "font": "Liberation Sans", "fontSize": 21, "fontWeight": "bold", "fill": "#008000", "align": "center", "baseline": "alphabetic"},
      "encoding": {"x": {"datum": 28.6, "type": "quantitative"}, "y": {"datum": 134.6, "type": "quantitative"}}
    },
    {
      "data": {"values": [{}]},
      "mark": {"type": "text", "text": "(Norddeutschland)", "font": "Liberation Sans", "fontSize": 14.5, "fill": "#000000", "align": "center", "baseline": "alphabetic"},
      "encoding": {"x": {"datum": 28.5, "type": "quantitative"}, "y": {"datum": 124.5, "type": "quantitative"}}
    },
    {
      "data": {"values": [{}]},
      "mark": {"type": "rect", "fill": "#dddddd", "stroke": "#000000", "strokeWidth": 1},
      "encoding": {"x": {"datum": 19.2, "type": "quantitative"}, "x2": {"datum": 38.75}, "y": {"datum": 20.53, "type": "quantitative"}, "y2": {"datum": 60.6}}
    },
    {
      "data": {"values": [{}]},
      "mark": {"type": "text", "text": "Belastung", "font": "Liberation Sans", "fontSize": 15, "fill": "#000000", "align": "center", "baseline": "alphabetic"},
      "encoding": {"x": {"datum": 28.6, "type": "quantitative"}, "y": {"datum": 52.9, "type": "quantitative"}}
    },
    {
      "data": {"values": [{}]},
      "mark": {"type": "text", "text": "stark", "font": "Liberation Sans", "fontSize": 15, "fill": "#ff0000", "align": "center", "baseline": "alphabetic"},
      "encoding": {"x": {"datum": 28.6, "type": "quantitative"}, "y": {"datum": 44.1, "type": "quantitative"}}
    },
    {
      "data": {"values": [{}]},
      "mark": {"type": "text", "text": "mäßig", "font": "Liberation Sans", "fontSize": 15, "fill": "#ff00ff", "align": "center", "baseline": "alphabetic"},
      "encoding": {"x": {"datum": 28.6, "type": "quantitative"}, "y": {"datum": 35.4, "type": "quantitative"}}
    },
    {
      "data": {"values": [{}]},
      "mark": {"type": "text", "text": "schwach", "font": "Liberation Sans", "fontSize": 15, "fill": "#5577ff", "align": "center", "baseline": "alphabetic"},
      "encoding": {"x": {"datum": 28.6, "type": "quantitative"}, "y": {"datum": 26.3, "type": "quantitative"}}
    }
  ]
}
